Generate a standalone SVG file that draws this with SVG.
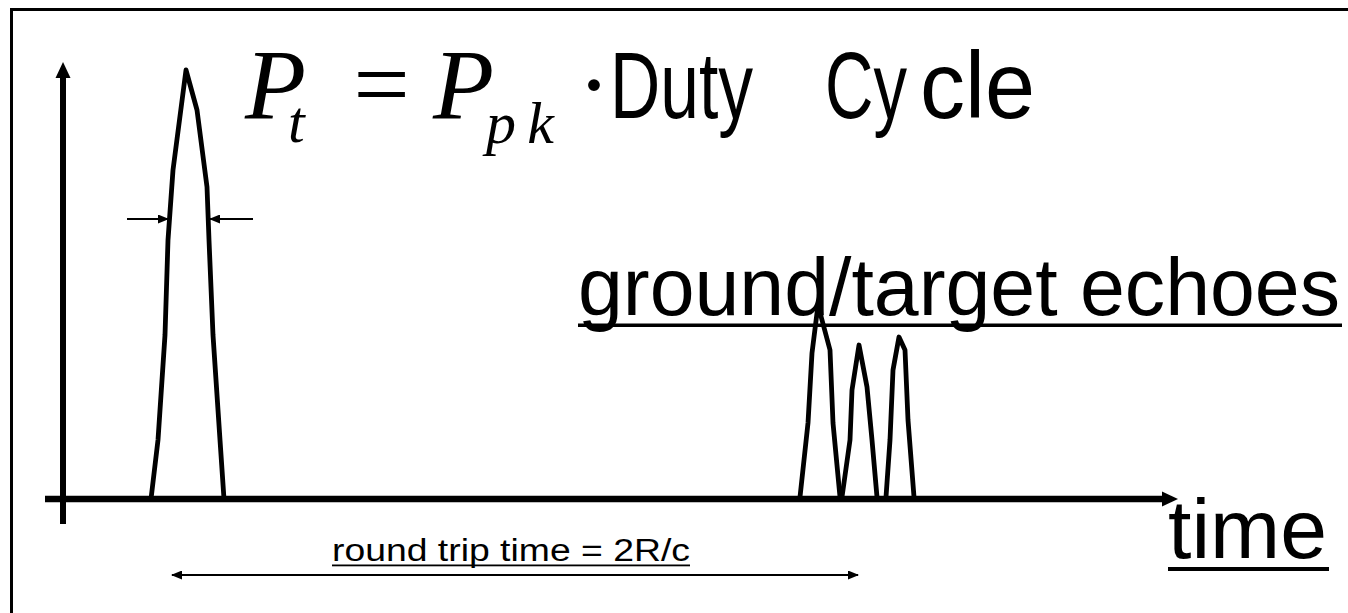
<svg xmlns="http://www.w3.org/2000/svg" width="1348" height="613" viewBox="0 0 1348 613">
<style>
.sans{font-family:"Liberation Sans",Arial,sans-serif;fill:#000}
.serif{font-family:"Liberation Serif","Times New Roman",serif;font-style:italic;fill:#000}
.pulse{fill:none;stroke:#000;stroke-width:4.8;stroke-linejoin:round}
.thin{stroke:#000;stroke-width:2.2;fill:none}
</style>
<defs>
<marker id="ah" markerWidth="11" markerHeight="9" refX="10" refY="4.5" orient="auto-start-reverse" markerUnits="userSpaceOnUse">
<path d="M0,0 L11,4.5 L0,9 Z" fill="#000"/>
</marker>
</defs>
<rect width="1348" height="613" fill="#fff"/>
<rect id="frame" x="11.5" y="9.5" width="1345" height="700" fill="none" stroke="#000" stroke-width="3"/>

<g id="axes">
<line x1="63" y1="524" x2="63" y2="74" stroke="#000" stroke-width="6"/>
<polygon points="63,62 55.5,78 70.5,78" fill="#000"/>
<line x1="45" y1="499" x2="1164" y2="499" stroke="#000" stroke-width="6.5"/>
<polygon points="1178,499 1162,491.5 1162,506.5" fill="#000"/>
</g>

<g id="transmitted-pulse">
<polyline class="pulse" points="151,499 158,440 165,335 168,240 173,170 186,70 197,110 207,187 209,240 213,335 220,440 224,499"/>
</g>

<g id="echoes">
<polyline class="pulse" points="800,497 808,423 812,353 818,305 830,350 833,423 840,497"/>
<polyline class="pulse" points="842,497 850,440 852,390 859,345 867,387 872,440 877,497"/>
<polyline class="pulse" points="886,497 890,440 893,370 899,337 905,350 908,420 914,497"/>
</g>

<g id="connectors">
<line class="thin" x1="127" y1="219" x2="168" y2="219" marker-end="url(#ah)"/>
<line class="thin" x1="253" y1="219" x2="210" y2="219" marker-end="url(#ah)"/>
<line class="thin" x1="172" y1="575" x2="858" y2="575" marker-start="url(#ah)" marker-end="url(#ah)"/>
</g>

<g id="equation">
<text class="serif" x="245" y="118" font-size="100">P</text>
<text class="serif" x="288" y="142" font-size="60">t</text>
<text class="serif" x="347" y="118" font-size="100" font-style="normal">=</text>
<text class="serif" x="433" y="118" font-size="100">P</text>
<text class="serif" x="486" y="143" font-size="60" textLength="68" lengthAdjust="spacing">pk</text>
<text class="serif" x="580" y="118" font-size="100" font-style="normal">·</text>
<text class="sans" x="610" y="118" font-size="95" textLength="143" lengthAdjust="spacingAndGlyphs">Duty</text>
<text class="sans" x="825" y="118" font-size="95" textLength="82" lengthAdjust="spacingAndGlyphs">Cy</text>
<text class="sans" x="920" y="118" font-size="95" textLength="115" lengthAdjust="spacingAndGlyphs">cle</text>
</g>

<g id="echo-label">
<text class="sans" x="578" y="315" font-size="82" textLength="762" lengthAdjust="spacingAndGlyphs">ground/target echoes</text>
<rect x="578" y="323.5" width="764" height="3.5" fill="#000"/>
</g>

<g id="time-label">
<text class="sans" x="1168" y="558" font-size="84" textLength="159" lengthAdjust="spacingAndGlyphs">time</text>
<rect x="1168" y="567" width="161" height="4" fill="#000"/>
</g>

<g id="round-trip-label">
<text class="sans" x="332" y="561" font-size="31" textLength="358" lengthAdjust="spacingAndGlyphs">round trip time = 2R/c</text>
<rect x="332" y="564.5" width="358" height="1.8" fill="#000"/>
</g>
</svg>
